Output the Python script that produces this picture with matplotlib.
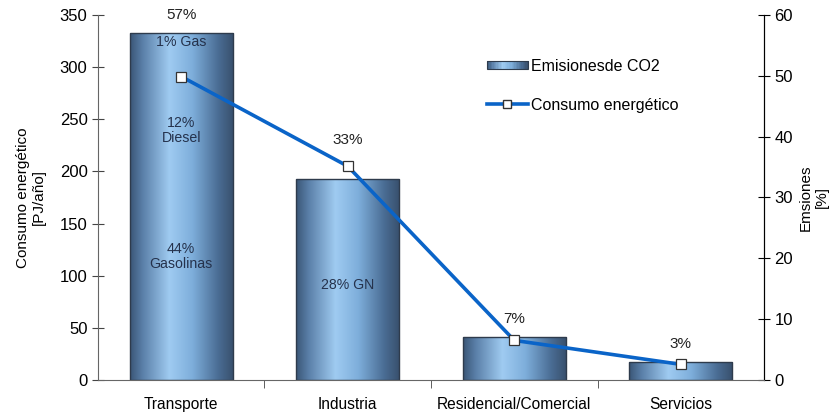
import numpy as np
import matplotlib.pyplot as plt
from matplotlib.colors import LinearSegmentedColormap
from matplotlib.patches import Rectangle
from matplotlib.lines import Line2D
from matplotlib.legend_handler import HandlerBase

plt.rcParams['font.family'] = ['Liberation Sans', 'DejaVu Sans']

sectores = ["Transporte", "Industria", "Residencial/Comercial", "Servicios"]
emisiones = [57, 33, 7, 3]              # % (eje derecho)
consumo = [291, 205, 38, 15]            # PJ/año (eje izquierdo)
etiquetas_emis = ["57%", "33%", "7%", "3%"]
desplaz_etiq = [13, 28, 13, 13]         # puntos sobre la barra

# textos dentro de las barras: (sector, valor en PJ/año, texto)
notas = [(0, 324, "1% Gas"), (0, 239, "12%\nDiesel"),
         (0, 118, "44%\nGasolinas"), (1, 91, "28% GN")]

grad = LinearSegmentedColormap.from_list("barra", [
    (0.0, "#3a5676"), (0.12, "#5a7fa8"), (0.38, "#9fcbf1"),
    (0.6, "#7eaedb"), (0.85, "#4a6d94"), (1.0, "#384f6c")])

fig = plt.figure(figsize=(8.33, 4.15), dpi=100)
ax = fig.add_axes([0.1176, 0.0843, 0.7996, 0.8796])
ax2 = ax.twinx()
ax.set_zorder(ax2.get_zorder() + 1)
ax.patch.set_visible(False)

x = np.arange(len(sectores))
ancho = 0.62
barras = ax2.bar(x, emisiones, width=ancho, facecolor="none",
                 edgecolor="#2e3b4c", linewidth=1.0, zorder=3)
franja = np.linspace(0, 1, 256).reshape(1, -1)
for b in barras:
    im = ax2.imshow(franja, cmap=grad, aspect="auto", zorder=2,
                    extent=[b.get_x(), b.get_x() + b.get_width(), 0, b.get_height()])
    im.set_clip_path(b)

for xi, v, t, d in zip(x, emisiones, etiquetas_emis, desplaz_etiq):
    ax2.annotate(t, (xi, v), xytext=(0, d), textcoords="offset points",
                 ha="center", va="center", fontsize=11, color="#222222")

ax.plot(x, consumo, color="#0a64c8", linewidth=2.6, marker="s", markersize=7,
        markerfacecolor="white", markeredgecolor="#333333", markeredgewidth=0.9,
        zorder=5)

for i, y, t in notas:
    ax.text(i, y, t, ha="center", va="center", fontsize=10.2, color="#25324c",
            linespacing=1.1)

ax.set_xlim(-0.5, 3.5)
ax.set_ylim(0, 350)
ax2.set_ylim(0, 60)
ax.set_yticks(range(0, 351, 50))
ax2.set_yticks(range(0, 61, 10))
ax.set_xticks(x)
ax.set_xticklabels(sectores, fontsize=11.2)
ax.set_xticks([0.5, 1.5, 2.5], minor=True)
ax.tick_params(axis="x", which="major", length=0, pad=12)
ax.tick_params(axis="x", which="minor", length=6, direction="out", color="#444444")
ax.tick_params(axis="y", direction="inout", length=8, labelsize=12, color="#444444")
ax2.tick_params(axis="y", direction="inout", length=8, labelsize=12)

for a in (ax, ax2):
    a.spines["top"].set_visible(False)
ax.spines["left"].set_color("#666666")
ax.spines["bottom"].set_color("#666666")
ax2.spines["right"].set_color("#222222")
ax2.spines["left"].set_visible(False)
ax2.spines["bottom"].set_visible(False)

ax.set_ylabel("Consumo energético\n[PJ/año]", fontsize=11, labelpad=10)
ax2.set_ylabel("Emsiones\n[%]", fontsize=11, rotation=90, labelpad=4)


class HandlerGradiente(HandlerBase):
    def create_artists(self, legend, orig, xd, yd, w, h, fontsize, trans):
        arts = []
        n = 30
        for k in range(n):
            r = Rectangle((xd + w * k / n, yd + h * 0.15), w / n + 0.3, h * 0.7,
                          facecolor=grad(k / (n - 1)), edgecolor="none",
                          transform=trans)
            arts.append(r)
        arts.append(Rectangle((xd, yd + h * 0.15), w, h * 0.7, facecolor="none",
                              edgecolor="#2e3b4c", linewidth=0.8, transform=trans))
        return arts


marca_barra = Rectangle((0, 0), 1, 1)
marca_linea = Line2D([], [], color="#0a64c8", linewidth=2.6, marker="s",
                     markersize=6, markerfacecolor="white", markeredgecolor="#333333")
ax.legend([marca_barra, marca_linea], ["Emisionesde CO2", "Consumo energético"],
          handler_map={Rectangle: HandlerGradiente()},
          loc="upper left", bbox_to_anchor=(0.562, 0.92), frameon=False,
          fontsize=11.5, labelspacing=1.5, handlelength=2.6, handletextpad=0.2)

fig.savefig("out.png", dpi=100)
